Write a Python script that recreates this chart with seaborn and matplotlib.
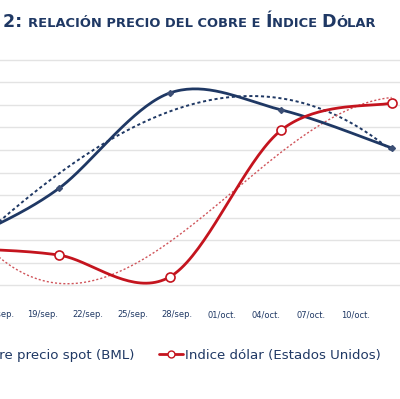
import numpy as np
import pandas as pd
import matplotlib
matplotlib.use("Agg")
import matplotlib.pyplot as plt
from matplotlib.lines import Line2D
import seaborn as sns

# values (y in gridline units, x in days after 16/sep.)
dias = [-1.2, 4.1, 11.5, 19.0, 26.4]
cobre = [2.31, 4.31, 8.53, 7.78, 6.09]
dolar = [1.60, 1.33, 0.36, 6.89, 8.09]
tick_dias = [0, 3, 6, 9, 12, 15, 18, 21, 24]
tick_labels = ["16/sep.", "19/sep.", "22/sep.", "25/sep.", "28/sep.",
               "01/oct.", "04/oct.", "07/oct.", "10/oct."]

navy = "#1f3864"
rojo = "#c4141e"


def suavizar(x, y, n=40):
    # excel-like smoothed line (catmull-rom bezier)
    p = np.column_stack([x, y])
    p = np.vstack([p[0], p, p[-1]])
    out = []
    for i in range(1, len(p) - 2):
        p0, p1, p2, p3 = p[i - 1], p[i], p[i + 1], p[i + 2]
        c1 = p1 + (p2 - p0) / 6
        c2 = p2 - (p3 - p1) / 6
        t = np.linspace(0, 1, n)[:, None]
        seg = (1 - t) ** 3 * p1 + 3 * (1 - t) ** 2 * t * c1 + 3 * (1 - t) * t ** 2 * c2 + t ** 3 * p2
        out.append(seg if i == 1 else seg[1:])
    out = np.vstack(out)
    return out[:, 0], out[:, 1]


def tendencia(x, y, grado=3, n=200):
    coef = np.polyfit(x, y, grado)
    xs = np.linspace(min(x), max(x), n)
    return xs, np.polyval(coef, xs)


sns.set_style("white")
fig = plt.figure(figsize=(4.0, 3.99), dpi=100)
ax = fig.add_axes([-0.15, (399 - 295) / 399, 1.15, 240 / 399])

for v in range(0, 11):
    ax.axhline(v, color="#e3e3e3", lw=1.0, zorder=0)

# trend lines
tx, ty = tendencia(dias, cobre)
sns.lineplot(x=tx, y=ty, ax=ax, color=navy, lw=1.4, sort=False, estimator=None)
ax.lines[-1].set_dashes((1.6, 1.4))
tx, ty = tendencia(dias, dolar)
sns.lineplot(x=tx, y=ty, ax=ax, color="#d0555b", lw=1.0, sort=False, estimator=None)
ax.lines[-1].set_dashes((1.5, 1.5))

# smoothed series
sx, sy = suavizar(dias, cobre)
sns.lineplot(x=sx, y=sy, ax=ax, color=navy, lw=2.0, sort=False, estimator=None)
sx, sy = suavizar(dias, dolar)
sns.lineplot(x=sx, y=sy, ax=ax, color=rojo, lw=2.0, sort=False, estimator=None)

ax.plot(dias, cobre, ls="none", marker="D", ms=3, color="#3c4f75", zorder=5)
ax.plot(dias, dolar, ls="none", marker="o", ms=6.5, mfc="white", mec=rojo, mew=1.2, zorder=5)

ax.set_xlim((-60 + 1.7) / 14.9, (400 + 1.7) / 14.9)
ax.set_ylim(-0.44, 10.22)
ax.set_xticks(tick_dias)
ax.set_xticklabels(tick_labels, fontsize=6, color=navy)
ax.set_yticks([])
ax.tick_params(axis="x", length=0, pad=11)
for s in ax.spines.values():
    s.set_visible(False)
ax.set_xlabel("")
ax.set_ylabel("")

# legend
h1 = Line2D([], [], color=navy, lw=2, marker="D", ms=3, mfc="#3c4f75")
h2 = Line2D([], [], color=rojo, lw=2, marker="o", ms=5, mfc="white", mec=rojo)
fig.legend([h1, h2], ["Cobre precio spot (BML)", "Indice dólar (Estados Unidos)"],
           loc="center right", bbox_to_anchor=(387 / 400, (399 - 355) / 399),
           ncol=2, frameon=False, fontsize=9.6, labelcolor=navy, borderpad=0,
           handlelength=1.75, handletextpad=0.15, columnspacing=1.9)

# title in small caps
fig.canvas.draw()
r = fig.canvas.get_renderer()
partes = [("2: ", 12.6), ("RELACIÓN PRECIO DEL COBRE E ", 9.4), ("Í", 12.6),
          ("NDICE ", 9.4), ("D", 12.6), ("ÓLAR", 9.4)]
x = 3 / 400
for s, size in partes:
    t = fig.text(x, (399 - 27) / 399, s, fontsize=size, weight="bold", color=navy, va="baseline")
    bb = t.get_window_extent(r)
    x = bb.x1 / fig.bbox.width

fig.savefig("out.png", dpi=100)
